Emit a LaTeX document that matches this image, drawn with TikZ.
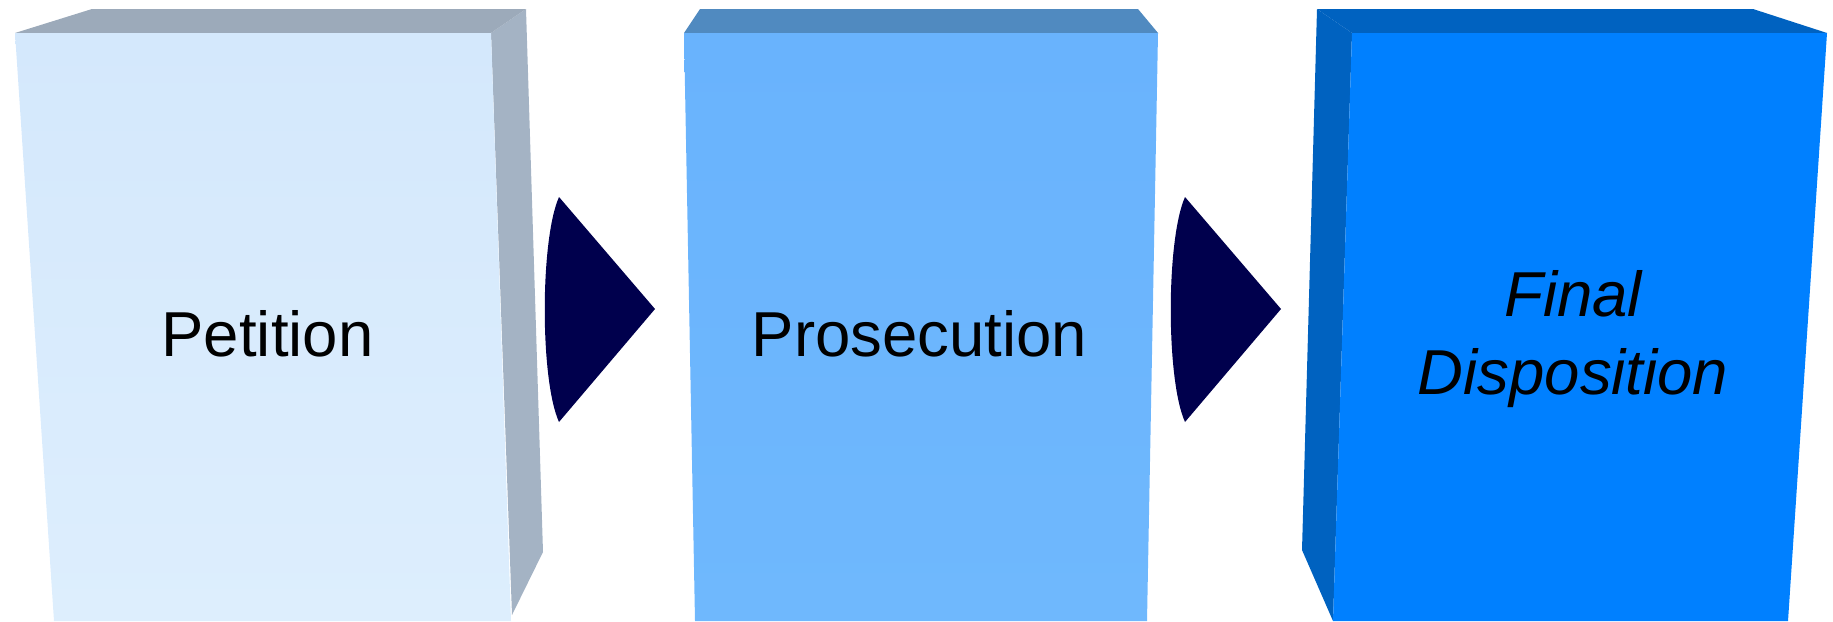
\documentclass[tikz,border=0pt]{standalone}
\usepackage{fontspec}
\setmainfont{Liberation Sans}
\usepackage{tikz}
\usetikzlibrary{arrows.meta,positioning}
\definecolor{paleface}{HTML}{D4E8FC}
\definecolor{palefoot}{HTML}{DDEEFD}
\definecolor{paleedge}{HTML}{A4B3C4}
\definecolor{midface}{HTML}{69B3FD}
\definecolor{midfoot}{HTML}{6FB8FD}
\definecolor{midedge}{HTML}{508AC0}
\definecolor{deepface}{HTML}{0080FF}
\definecolor{deepedge}{HTML}{0062C0}
\definecolor{navy}{HTML}{00004D}

\tikzset{
  label/.style={font=\fontsize{63.5}{78}\selectfont,text=black,inner sep=0pt},
  tip/.style={fill=navy}
}

\begin{document}
\begin{tikzpicture}[x=1pt,y=-1pt]
 \useasboundingbox (0,0) rectangle (1833,621);
 % petition block
 \fill[paleedge] (491,33) -- (526,9) -- (543,552) -- (512,615) -- cycle;
 \fill[paleedge!95!black] (15,33) -- (92,9) -- (526,9) -- (491,33) -- cycle;
 \shade[top color=paleface,bottom color=palefoot]
   (15,33) -- (491,33) -- (511,621) -- (54,621) -- cycle;
 % prosecution block
 \fill[midedge] (684,33) -- (700,9) -- (1138,9) -- (1158,33) -- cycle;
 \shade[top color=midface,bottom color=midfoot]
   (684,33) -- (1158,33) -- (1147,621) -- (695,621) -- cycle;
 % final block
 \fill[deepedge] (1352,33) -- (1317,9) -- (1302,550) -- (1333,621) -- cycle;
 \fill[deepedge] (1317,9) -- (1753,9) -- (1827,33) -- (1352,33) -- cycle;
 \fill[deepface] (1352,33) -- (1827,33) -- (1788,621) -- (1333,621) -- cycle;
 % arrows between blocks
 \foreach \ax in {559,1185}{
   \fill[tip] (\ax,197) .. controls (\ax-19,240) and (\ax-19,380) .. (\ax,422)
     -- (\ax+96,309) -- cycle;}
 \node[label,anchor=base] (petition) at (267.5,356) {Petition};
 \node[label,anchor=base] (prosecution) at (919.5,356) {Prosecution};
 \node[label,align=center,font=\fontsize{63.5}{78}\selectfont\itshape]
   (final) at (1573,339) {Final\\Disposition};
\end{tikzpicture}
\end{document}
